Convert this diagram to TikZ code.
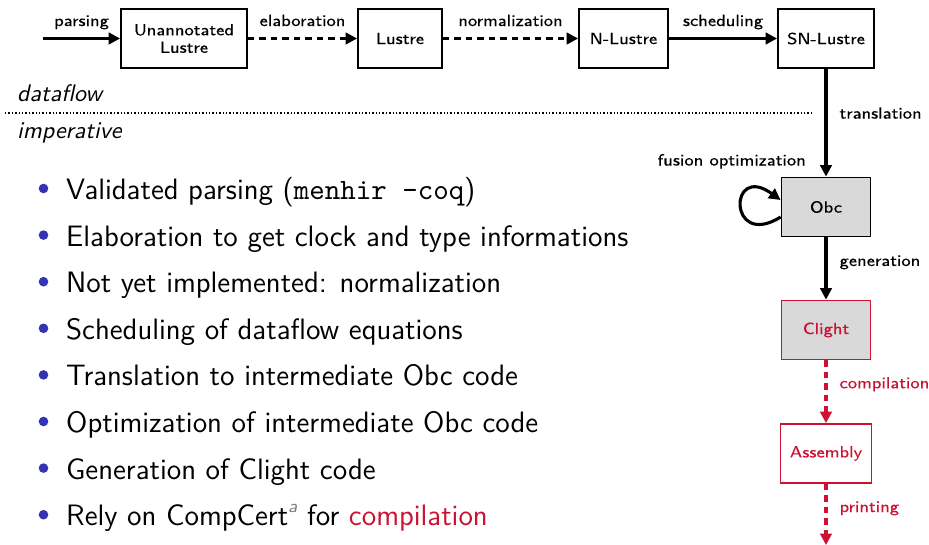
\documentclass[tikz,border=0pt]{standalone}
\usepackage{fontspec}
\usetikzlibrary{arrows.meta,calc}
\newfontfamily\lblf{lmsans8-regular.otf}[FakeStretch=1.08,FakeBold=0.12]
\newfontfamily\itf{lmsans10-oblique.otf}
\newfontfamily\bulf{lmsans12-regular.otf}
\newfontfamily\supf{lmsans8-oblique.otf}
\newfontfamily\ttf{lmmono10-regular.otf}
\definecolor{cred}{RGB}{204,17,51}
\definecolor{cblue}{RGB}{51,51,179}
\definecolor{cgray}{RGB}{217,217,217}
\begin{document}
\begin{tikzpicture}[x=1pt,y=-1pt,
  box/.style={draw, line width=1.8pt, minimum height=59pt, inner sep=0pt, align=center,
    font=\lblf\fontsize{16.2}{17.5}\selectfont},
  lbl/.style={inner sep=0pt, font=\lblf\fontsize{16.2}{18}\selectfont},
  arr/.style={line width=3.1pt, -{Triangle[length=11.5pt,width=11.5pt]}},
  dsh/.style={arr, dash pattern=on 6.5pt off 5pt},
  bul/.style={anchor=base west, inner sep=0pt, font=\bulf\fontsize{29.5}{34}\selectfont},
  side/.style={anchor=base west, inner sep=0pt, font=\itf\fontsize{24}{28}\selectfont}]
\useasboundingbox (0,0) rectangle (929,544);

% pipeline boxes
\node[box, minimum width=126pt] (un) at (184,38.5) {Unannotated\\Lustre};
\node[box, minimum width=84pt] (lu) at (400,38.5) {Lustre};
\node[box, minimum width=89pt] (nl) at (623.5,38.5) {N-Lustre};
\node[box, minimum width=96pt] (sn) at (826,38.5) {SN-Lustre};
\node[box, fill=cgray, minimum width=89pt] (obc) at (826,207) {Obc};
\node[box, draw=cred, text=cred, fill=cgray, minimum width=89pt] (cl) at (826,330) {Clight};
\node[box, draw=cred, text=cred, minimum width=91pt] (as) at (826,453.5) {Assembly};

% connectors
\coordinate (start) at (43,38.5);
\draw[arr] (start) -- (un) node[lbl, midway, anchor=base, yshift=12.5pt] {parsing};
\draw[dsh] (un) -- (lu) node[lbl, midway, anchor=base, yshift=12.5pt] {elaboration};
\draw[dsh] (lu) -- (nl) node[lbl, midway, anchor=base, yshift=12.5pt] {normalization};
\draw[arr] (nl) -- (sn) node[lbl, midway, anchor=base, yshift=12.5pt] {scheduling};
\draw[arr] (sn) -- (obc) node[lbl, pos=0.41, anchor=west, xshift=12pt] {translation};
\draw[arr] ([yshift=-10pt]obc.west) .. controls (728,250) and (728,162) .. ([yshift=7pt]obc.west);
\node[lbl, anchor=base east] (fus) at (806,165.5) {fusion optimization};
\draw[arr] (obc) -- (cl) node[lbl, pos=0.4, anchor=west, xshift=12pt] {generation};
\draw[dsh, cred] (cl) -- (as) node[lbl, text=cred, pos=0.38, anchor=west, xshift=12pt] {compilation};
\coordinate (end) at (826,545);
\draw[dsh, cred] (as) -- (end) node[lbl, text=cred, pos=0.4, anchor=west, xshift=12pt] {printing};

% dataflow / imperative separation
\coordinate (dl) at (5,113);
\coordinate (dr) at (812,113);
\draw[dotted, line width=1.4pt] (dl) -- (dr);
\node[side] (df) at (17,101.5) {dataflow};
\node[side] (imp) at (17,138) {imperative};

% bullet list
\foreach \i/\t in {0/{Validated parsing ({\ttf menhir -coq})},
  1/{Elaboration to get clock and type informations},
  2/{Not yet implemented: normalization},
  3/{Scheduling of dataflow equations},
  4/{Translation to intermediate Obc code},
  5/{Optimization of intermediate Obc code},
  6/{Generation of Clight code},
  7/{Rely on CompCert\raisebox{0.45em}{\supf\fontsize{18}{18}\selectfont\color{black!50}a} for {\color{cred}compilation}}}{
  \fill[cblue] (43.5,188.5+46.6*\i) circle (4.8pt);
  \node[bul] (b\i) at (66,199.5+46.6*\i) {\t};
}
\end{tikzpicture}
\end{document}
